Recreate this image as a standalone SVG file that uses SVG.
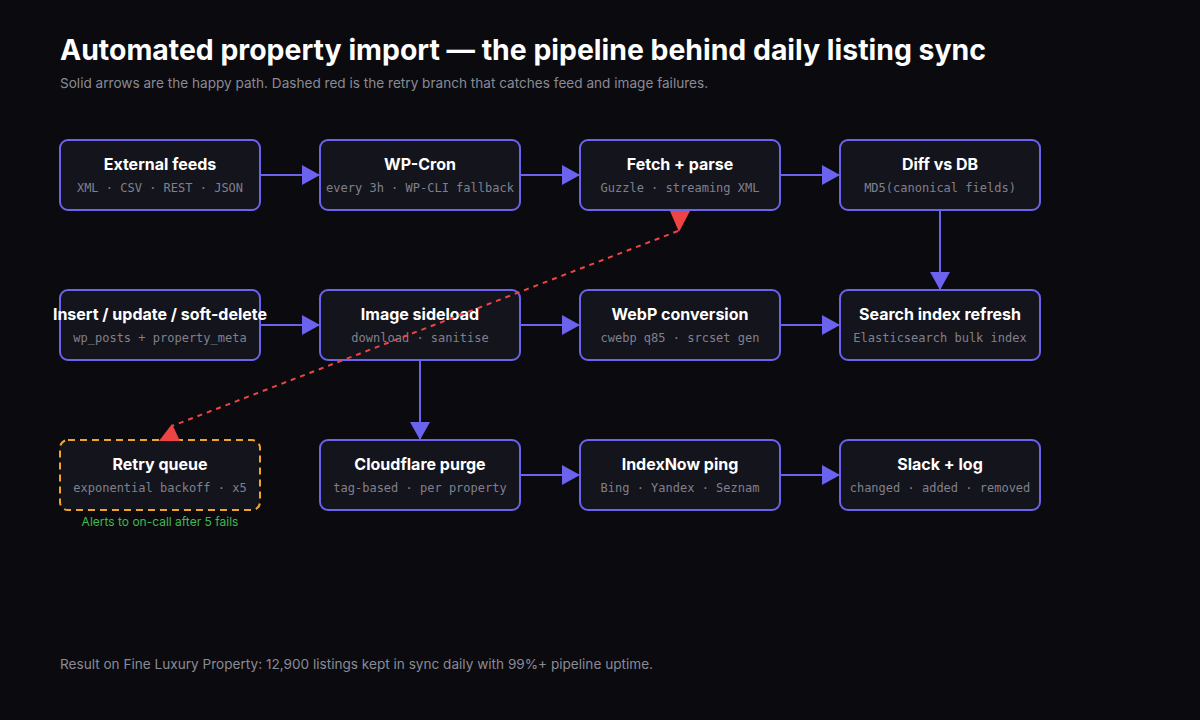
<svg xmlns="http://www.w3.org/2000/svg" width="1200" height="720" viewBox="0 0 1200 720">
<style>
.bg{fill:#0b0b0f}
.box{fill:#14141c;stroke:#6b62ee;stroke-width:2}
.retry{fill:#14141c;stroke:#f0a52a;stroke-width:2;stroke-dasharray:7 5}
.t{font-family:Inter,"Liberation Sans",sans-serif;font-weight:700;font-size:16px;fill:#ffffff;text-anchor:middle}
.s{font-family:"DejaVu Sans Mono","Liberation Mono",monospace;font-size:12px;fill:#80808c;text-anchor:middle}
.edge{stroke:#6b62ee;stroke-width:2;fill:none}
.fail{stroke:#ef4444;stroke-width:2;fill:none;stroke-dasharray:5 5}
</style>
<defs>
<marker id="ah" markerUnits="userSpaceOnUse" markerWidth="18" markerHeight="20" refX="18" refY="10" orient="auto">
<path d="M0,0 L18,10 L0,20 z" fill="#6b62ee"/>
</marker>
</defs>
<rect class="bg" x="0" y="0" width="1200" height="720"/>
<text x="60" y="60" font-family="Inter,'Liberation Sans',sans-serif" font-weight="700" font-size="28.4" fill="#ffffff">Automated property import — the pipeline behind daily listing sync</text>
<text x="60" y="88" font-family="Inter,'Liberation Sans',sans-serif" font-size="13.6" fill="#8a8a96">Solid arrows are the happy path. Dashed red is the retry branch that catches feed and image failures.</text>

<g id="connectors">
<line class="edge" x1="260" y1="175" x2="320" y2="175" marker-end="url(#ah)"/>
<line class="edge" x1="520" y1="175" x2="580" y2="175" marker-end="url(#ah)"/>
<line class="edge" x1="780" y1="175" x2="840" y2="175" marker-end="url(#ah)"/>
<line class="edge" x1="940" y1="210" x2="940" y2="290" marker-end="url(#ah)"/>
<line class="edge" x1="260" y1="325" x2="320" y2="325" marker-end="url(#ah)"/>
<line class="edge" x1="520" y1="325" x2="580" y2="325" marker-end="url(#ah)"/>
<line class="edge" x1="780" y1="325" x2="840" y2="325" marker-end="url(#ah)"/>
<line class="edge" x1="420" y1="360" x2="420" y2="440" marker-end="url(#ah)"/>
<line class="edge" x1="520" y1="475" x2="580" y2="475" marker-end="url(#ah)"/>
<line class="edge" x1="780" y1="475" x2="840" y2="475" marker-end="url(#ah)"/>
</g>

<g id="n-feeds"><rect class="box" x="60" y="140" width="200" height="70" rx="8"/><text class="t" x="160" y="170">External feeds</text><text class="s" x="160" y="192">XML · CSV · REST · JSON</text></g>
<g id="n-cron"><rect class="box" x="320" y="140" width="200" height="70" rx="8"/><text class="t" x="420" y="170">WP-Cron</text><text class="s" x="420" y="192">every 3h · WP-CLI fallback</text></g>
<g id="n-fetch"><rect class="box" x="580" y="140" width="200" height="70" rx="8"/><text class="t" x="680" y="170">Fetch + parse</text><text class="s" x="680" y="192">Guzzle · streaming XML</text></g>
<g id="n-diff"><rect class="box" x="840" y="140" width="200" height="70" rx="8"/><text class="t" x="940" y="170">Diff vs DB</text><text class="s" x="940" y="192">MD5(canonical fields)</text></g>

<g id="n-insert"><rect class="box" x="60" y="290" width="200" height="70" rx="8"/><text class="t" x="160" y="320">Insert / update / soft-delete</text><text class="s" x="160" y="342">wp_posts + property_meta</text></g>
<g id="n-image"><rect class="box" x="320" y="290" width="200" height="70" rx="8"/><text class="t" x="420" y="320">Image sideload</text><text class="s" x="420" y="342">download · sanitise</text></g>
<g id="n-webp"><rect class="box" x="580" y="290" width="200" height="70" rx="8"/><text class="t" x="680" y="320">WebP conversion</text><text class="s" x="680" y="342">cwebp q85 · srcset gen</text></g>
<g id="n-search"><rect class="box" x="840" y="290" width="200" height="70" rx="8"/><text class="t" x="940" y="320">Search index refresh</text><text class="s" x="940" y="342">Elasticsearch bulk index</text></g>

<g id="n-retry"><rect class="retry" x="60" y="440" width="200" height="70" rx="8"/><text class="t" x="160" y="470">Retry queue</text><text class="s" x="160" y="492">exponential backoff · x5</text><text x="160" y="526" font-family="Inter,'Liberation Sans',sans-serif" font-size="12" fill="#3fb950" text-anchor="middle">Alerts to on-call after 5 fails</text></g>
<g id="n-cf"><rect class="box" x="320" y="440" width="200" height="70" rx="8"/><text class="t" x="420" y="470">Cloudflare purge</text><text class="s" x="420" y="492">tag-based · per property</text></g>
<g id="n-indexnow"><rect class="box" x="580" y="440" width="200" height="70" rx="8"/><text class="t" x="680" y="470">IndexNow ping</text><text class="s" x="680" y="492">Bing · Yandex · Seznam</text></g>
<g id="n-slack"><rect class="box" x="840" y="440" width="200" height="70" rx="8"/><text class="t" x="940" y="470">Slack + log</text><text class="s" x="940" y="492">changed · added · removed</text></g>

<g id="retry-branch">
<line class="fail" x1="678" y1="231" x2="172" y2="426"/>
<polygon points="670,211 690,211 679,232" fill="#ef4444"/>
<polygon points="159,441 180,441 172,424" fill="#ef4444"/>
</g>

<text x="60" y="669" font-family="Inter,'Liberation Sans',sans-serif" font-size="13.6" fill="#8a8a96">Result on Fine Luxury Property: 12,900 listings kept in sync daily with 99%+ pipeline uptime.</text>
</svg>
